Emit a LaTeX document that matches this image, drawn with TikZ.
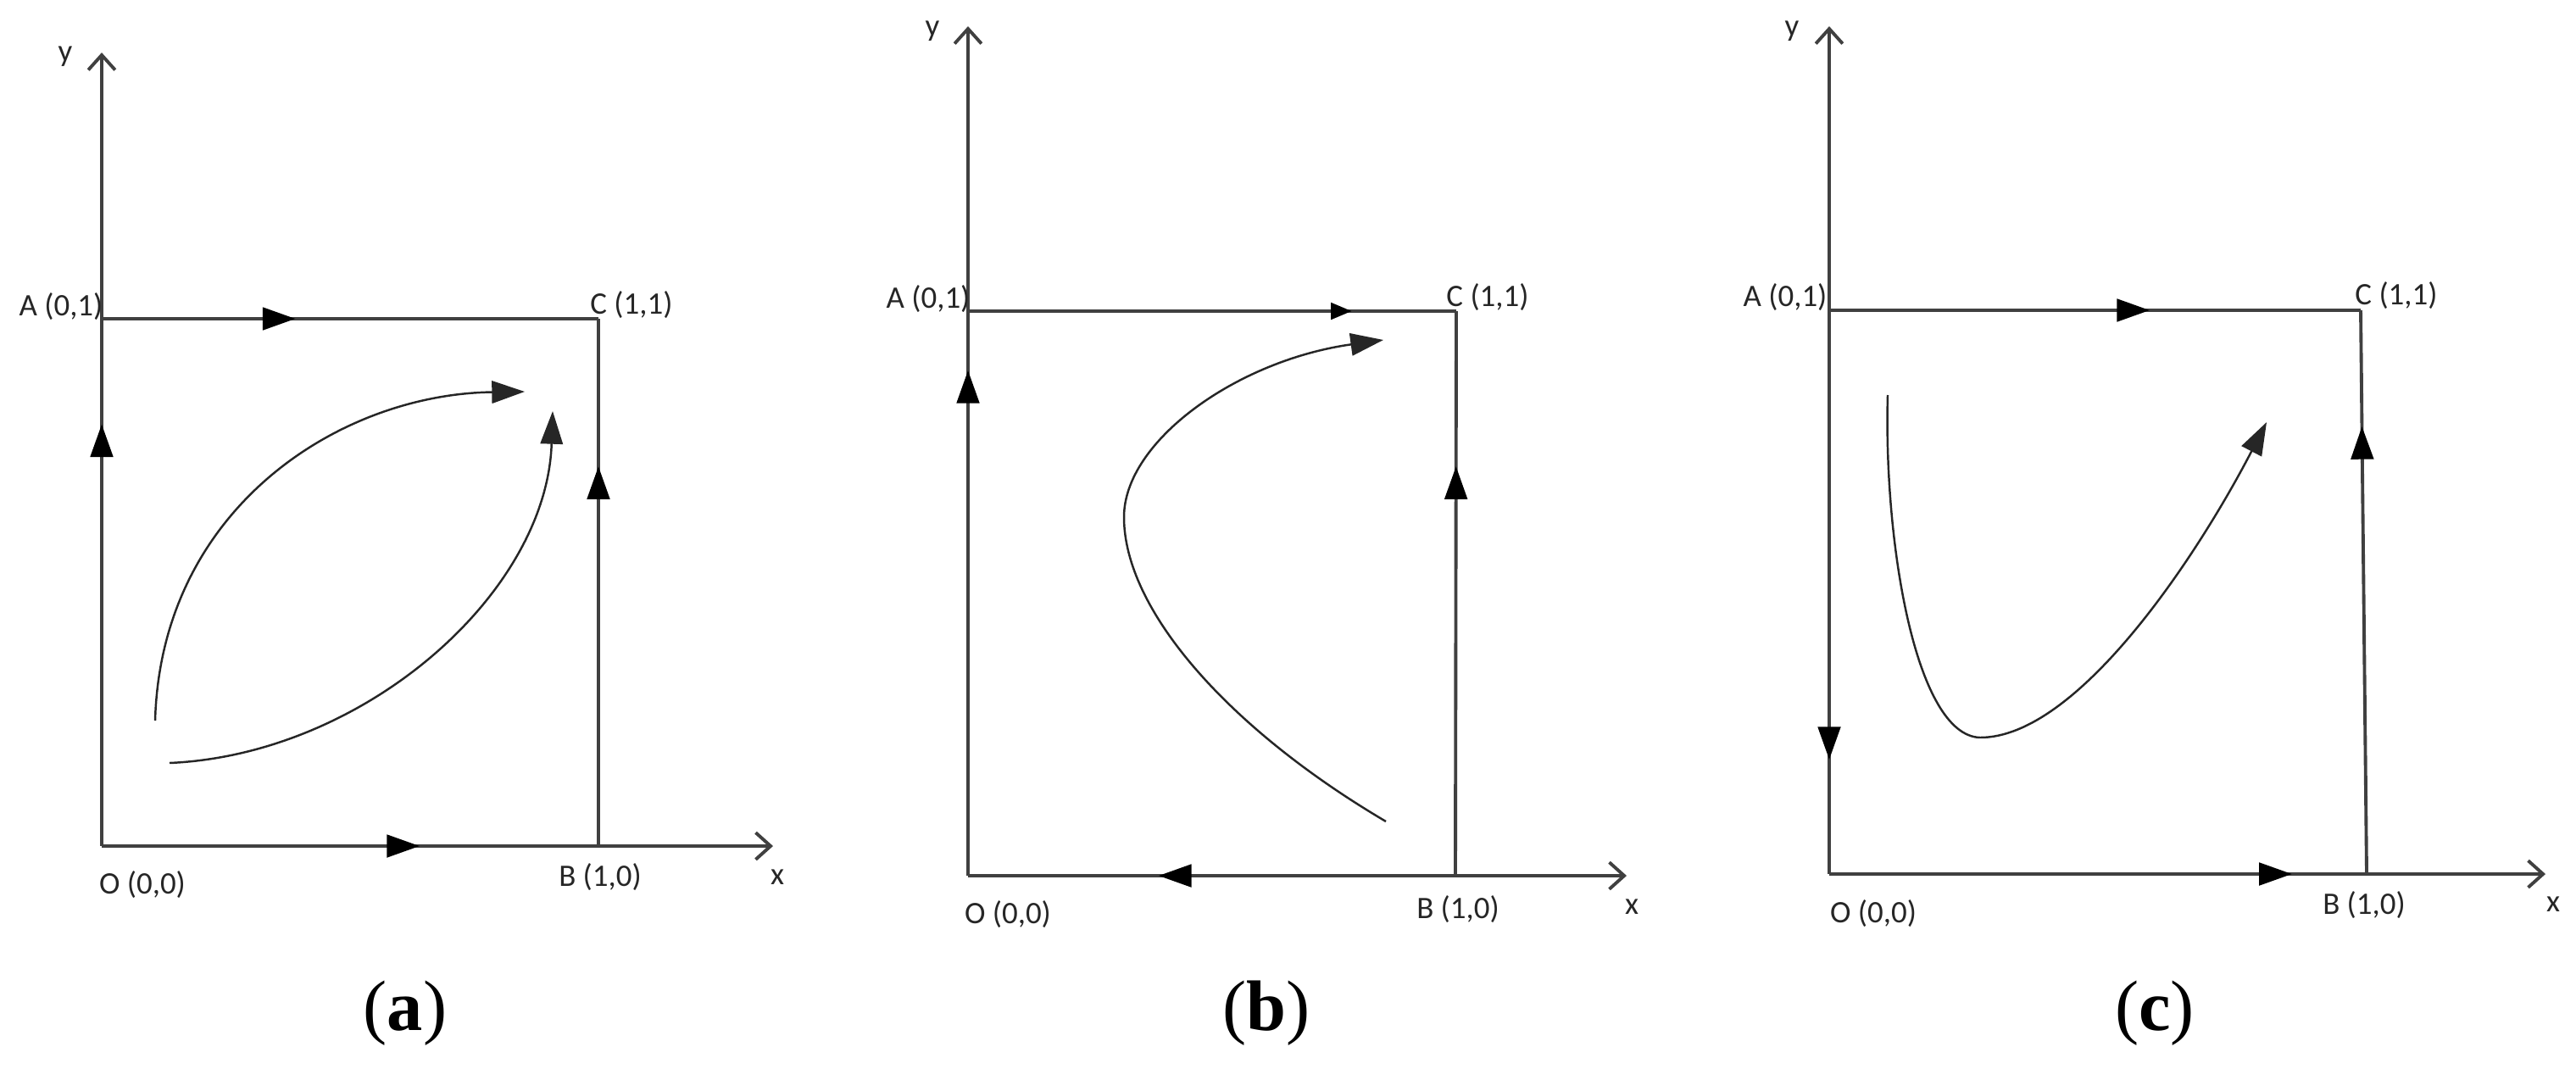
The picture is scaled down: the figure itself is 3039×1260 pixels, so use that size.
\documentclass[tikz,border=0pt]{standalone}
\usepackage{fontspec}
\setmainfont{Liberation Serif}
\newfontfamily\lblfont{Carlito}
\usetikzlibrary{arrows.meta,decorations.markings}

\tikzset{
  axis/.style={line width=1.1pt,black!75,-{Straight Barb[length=5pt,width=9pt]}},
  side/.style={line width=1.1pt,black!75},
  flow/.style={line width=0.7pt,black!85,-{Triangle[length=11pt,width=7.5pt]}},
  midarrow/.style={postaction={decorate},decoration={markings,
    mark=at position #1 with {\arrow[black]{Triangle[length=11pt,width=7.5pt]}}}},
  smallarrow/.style={postaction={decorate},decoration={markings,
    mark=at position #1 with {\arrow[black]{Triangle[length=7pt,width=5.5pt]}}}},
  lbl/.style={font=\lblfont\fontsize{10.5}{12}\selectfont,inner sep=0pt,black!85},
  subcap/.style={font=\fontsize{24}{28}\selectfont,inner sep=0pt}
}

\begin{document}
\begin{tikzpicture}[x=0.01cm,y=-0.01cm]
\useasboundingbox (0,0) rectangle (3039,1260);

% (a)
\coordinate (Oa) at (120,998);
\coordinate (Aa) at (120,376);
\coordinate (Ba) at (706,998);
\coordinate (Ca) at (706,376);
\coordinate (ya) at (120,62);
\coordinate (xa) at (912,998);
\draw[axis] (Oa) -- (ya);
\draw[axis] (Oa) -- (xa);
\draw[side,midarrow=0.8] (Oa) -- (Aa);
\draw[side,midarrow=0.39] (Aa) -- (Ca);
\draw[side,midarrow=0.64] (Oa) -- (Ba);
\draw[side,midarrow=0.72] (Ba) -- (Ca);
\draw[flow] (183,850) .. controls (190,600) and (400,465) .. (619,462);
\draw[flow] (200,900) .. controls (430,890) and (645,700) .. (652,485);
\node[lbl] (la-y) at (77,67) {y};
\node[lbl] (la-A) at (72,362) {A (0,1)};
\node[lbl] (la-C) at (745,360) {C (1,1)};
\node[lbl] (la-O) at (168,1044) {O (0,0)};
\node[lbl] (la-B) at (708,1035) {B (1,0)};
\node[lbl] (la-x) at (917,1035) {x};
\node[subcap] (cap-a) at (478,1195) {(\textbf{a})};

% (b)
\coordinate (Ob) at (1142,1033);
\coordinate (Ab) at (1142,367);
\coordinate (Bb) at (1717,1033);
\coordinate (Cb) at (1718,367);
\coordinate (yb) at (1142,31);
\coordinate (xb) at (1919,1033);
\draw[axis] (Ob) -- (yb);
\draw[axis] (Ob) -- (xb);
\draw[side,midarrow=0.895] (Ob) -- (Ab);
\draw[side,smallarrow=0.786] (Ab) -- (Cb);
\draw[side,midarrow=0.609] (Bb) -- (Ob);
\draw[side,midarrow=0.725] (Bb) -- (Cb);
\draw[flow] (1635,969) .. controls (1450,860) and (1326,720) .. (1326,610)
  .. controls (1326,520) and (1460,425) .. (1632,401);
\node[lbl] (lb-y) at (1100,37) {y};
\node[lbl] (lb-A) at (1095,353) {A (0,1)};
\node[lbl] (lb-C) at (1755,351) {C (1,1)};
\node[lbl] (lb-O) at (1189,1079) {O (0,0)};
\node[lbl] (lb-B) at (1720,1073) {B (1,0)};
\node[lbl] (lb-x) at (1925,1070) {x};
\node[subcap] (cap-b) at (1494,1195) {(\textbf{b})};

% (c)
\coordinate (Oc) at (2158,1031);
\coordinate (Ac) at (2158,366);
\coordinate (Bc) at (2792,1031);
\coordinate (Cc) at (2785,366);
\coordinate (yc) at (2158,31);
\coordinate (xc) at (3003,1031);
\draw[axis] (Oc) -- (yc);
\draw[axis] (Oc) -- (xc);
\draw[side,midarrow=0.797] (Ac) -- (Oc);
\draw[side,midarrow=0.603] (Ac) -- (Cc);
\draw[side,midarrow=0.861] (Oc) -- (Bc);
\draw[side,midarrow=0.794] (Bc) -- (Cc);
\draw[flow] (2227,466) .. controls (2222,640) and (2260,868) .. (2336,870)
  .. controls (2450,870) and (2590,660) .. (2674,498);
\node[lbl] (lc-y) at (2114,37) {y};
\node[lbl] (lc-A) at (2106,351) {A (0,1)};
\node[lbl] (lc-C) at (2827,349) {C (1,1)};
\node[lbl] (lc-O) at (2210,1078) {O (0,0)};
\node[lbl] (lc-B) at (2789,1068) {B (1,0)};
\node[lbl] (lc-x) at (3012,1067) {x};
\node[subcap] (cap-c) at (2542,1195) {(\textbf{c})};
\end{tikzpicture}
\end{document}
